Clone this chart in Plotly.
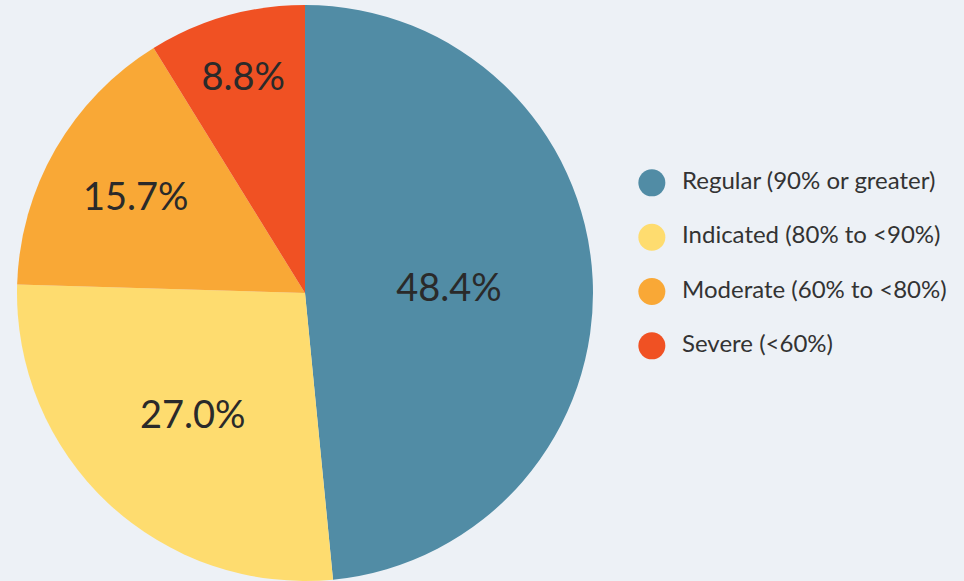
import plotly.graph_objects as go

categories = ["Regular (90% or greater)", "Indicated (80% to <90%)",
              "Moderate (60% to <80%)", "Severe (<60%)"]
values = [48.4, 27.0, 15.7, 8.8]
colors = ["#518ca5", "#fedc6f", "#f9a836", "#f05123"]

W, H = 964, 581
font_family = "Lato, 'Open Sans', sans-serif"
bg = "#edf1f6"

fig = go.Figure()

fig.add_trace(go.Pie(
    labels=categories,
    values=values,
    sort=False,
    direction="clockwise",
    rotation=0,
    marker=dict(colors=colors, line=dict(width=0)),
    texttemplate="%{value:.1f}%",
    textposition="inside",
    insidetextorientation="horizontal",
    textfont=dict(family=font_family, size=38, color="#2a2a2a", weight=400),
    domain=dict(x=[17 / W, 593 / W], y=[0, 576 / H]),
    showlegend=False,
    hoverinfo="skip",
))

# custom legend with circular markers
n = len(categories)
fig.add_trace(go.Scatter(
    x=[0] * n,
    y=list(range(n - 1, -1, -1)),
    mode="markers+text",
    marker=dict(size=27, color=colors, line=dict(width=0)),
    text=["  " + c for c in categories],
    textposition="middle right",
    textfont=dict(family=font_family, size=24, color="#333333"),
    xaxis="x", yaxis="y",
    showlegend=False,
    hoverinfo="skip",
    cliponaxis=False,
))

fig.update_layout(
    width=W, height=H,
    margin=dict(l=0, r=0, t=0, b=0),
    paper_bgcolor=bg,
    plot_bgcolor="rgba(0,0,0,0)",
    xaxis=dict(domain=[0.66, 1.0], range=[-0.05, 1.0], visible=False, fixedrange=True),
    yaxis=dict(domain=[0.358, 0.732], range=[-0.5, n - 0.5], visible=False, fixedrange=True),
)

fig.write_html(
    "out.html",
    config={"displayModeBar": False},
    post_script="document.body.style.margin='0';document.body.style.background='%s';" % bg,
)
